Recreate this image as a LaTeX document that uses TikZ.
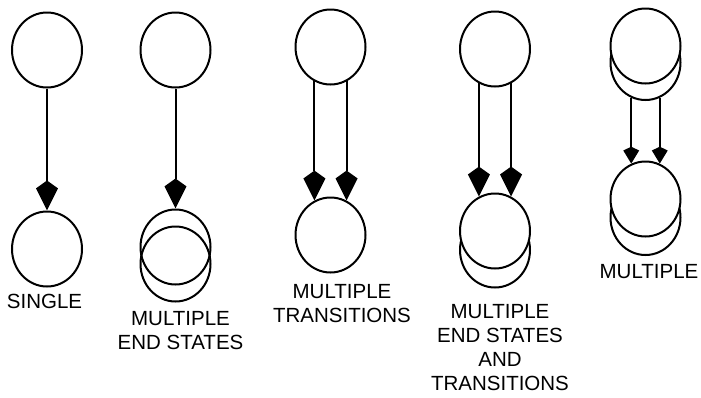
\documentclass[tikz,border=0pt]{standalone}
\usepackage{fontspec}
\setmainfont{Liberation Sans}
\usetikzlibrary{shapes.geometric,arrows.meta}
\begin{document}
\begin{tikzpicture}[x=1pt,y=-1pt,
  st/.style={ellipse,draw,line width=2pt,minimum width=70pt,minimum height=75pt,inner sep=0pt,fill=white},
  bigarr/.style={line width=2pt,-{Stealth[length=22pt,width=21pt,inset=-8pt]}},
  smallarr/.style={line width=2pt,-{Stealth[length=13pt,width=15pt,inset=-4pt]}},
  lab/.style={font=\fontsize{20.5}{24}\selectfont,align=center,inner sep=0pt}]
\useasboundingbox (0,0) rectangle (701,397);
% group 1
\node[st] (a1) at (47,50) {};
\node[st] (a2) at (47,249) {};
\draw[bigarr] (a1) -- (a2);
\node[lab] (l1) at (44.5,301.5) {SINGLE};
% group 2
\node[st] (b1) at (175.5,50) {};
\node[st,fill=none] (b2) at (175.5,247) {};
\node[st,fill=none] (b3) at (175.5,264) {};
\draw[bigarr] (b1) -- (b2);
\node[lab] (l2) at (180.5,331) {MULTIPLE\\END STATES};
% group 3
\node[st] (c1) at (330.5,47) {};
\node[st] (c2) at (330.5,235) {};
\draw[bigarr] (c1.-115) -- (c2.115);
\draw[bigarr] (c1.-65) -- (c2.65);
\node[lab] (l3) at (342,303.5) {MULTIPLE\\TRANSITIONS};
% group 4
\node[st] (d1) at (495,49) {};
\node[st] (d3) at (495,250) {};
\node[st] (d2) at (495,231) {};
\draw[bigarr] (d1.-115) -- (d2.115);
\draw[bigarr] (d1.-65) -- (d2.65);
\node[lab] (l4) at (500,347.5) {MULTIPLE\\END STATES\\AND\\TRANSITIONS};
% group 5
\node[st] (e2) at (645.5,62.5) {};
\node[st] (e1) at (645.5,46) {};
\node[st] (e4) at (645.5,217.5) {};
\node[st] (e3) at (645.5,199) {};
\draw[smallarr] (e2.-112) -- (e3.112);
\draw[smallarr] (e2.-68) -- (e3.68);
\node[lab] (l5) at (649,271.5) {MULTIPLE};
\end{tikzpicture}
\end{document}
